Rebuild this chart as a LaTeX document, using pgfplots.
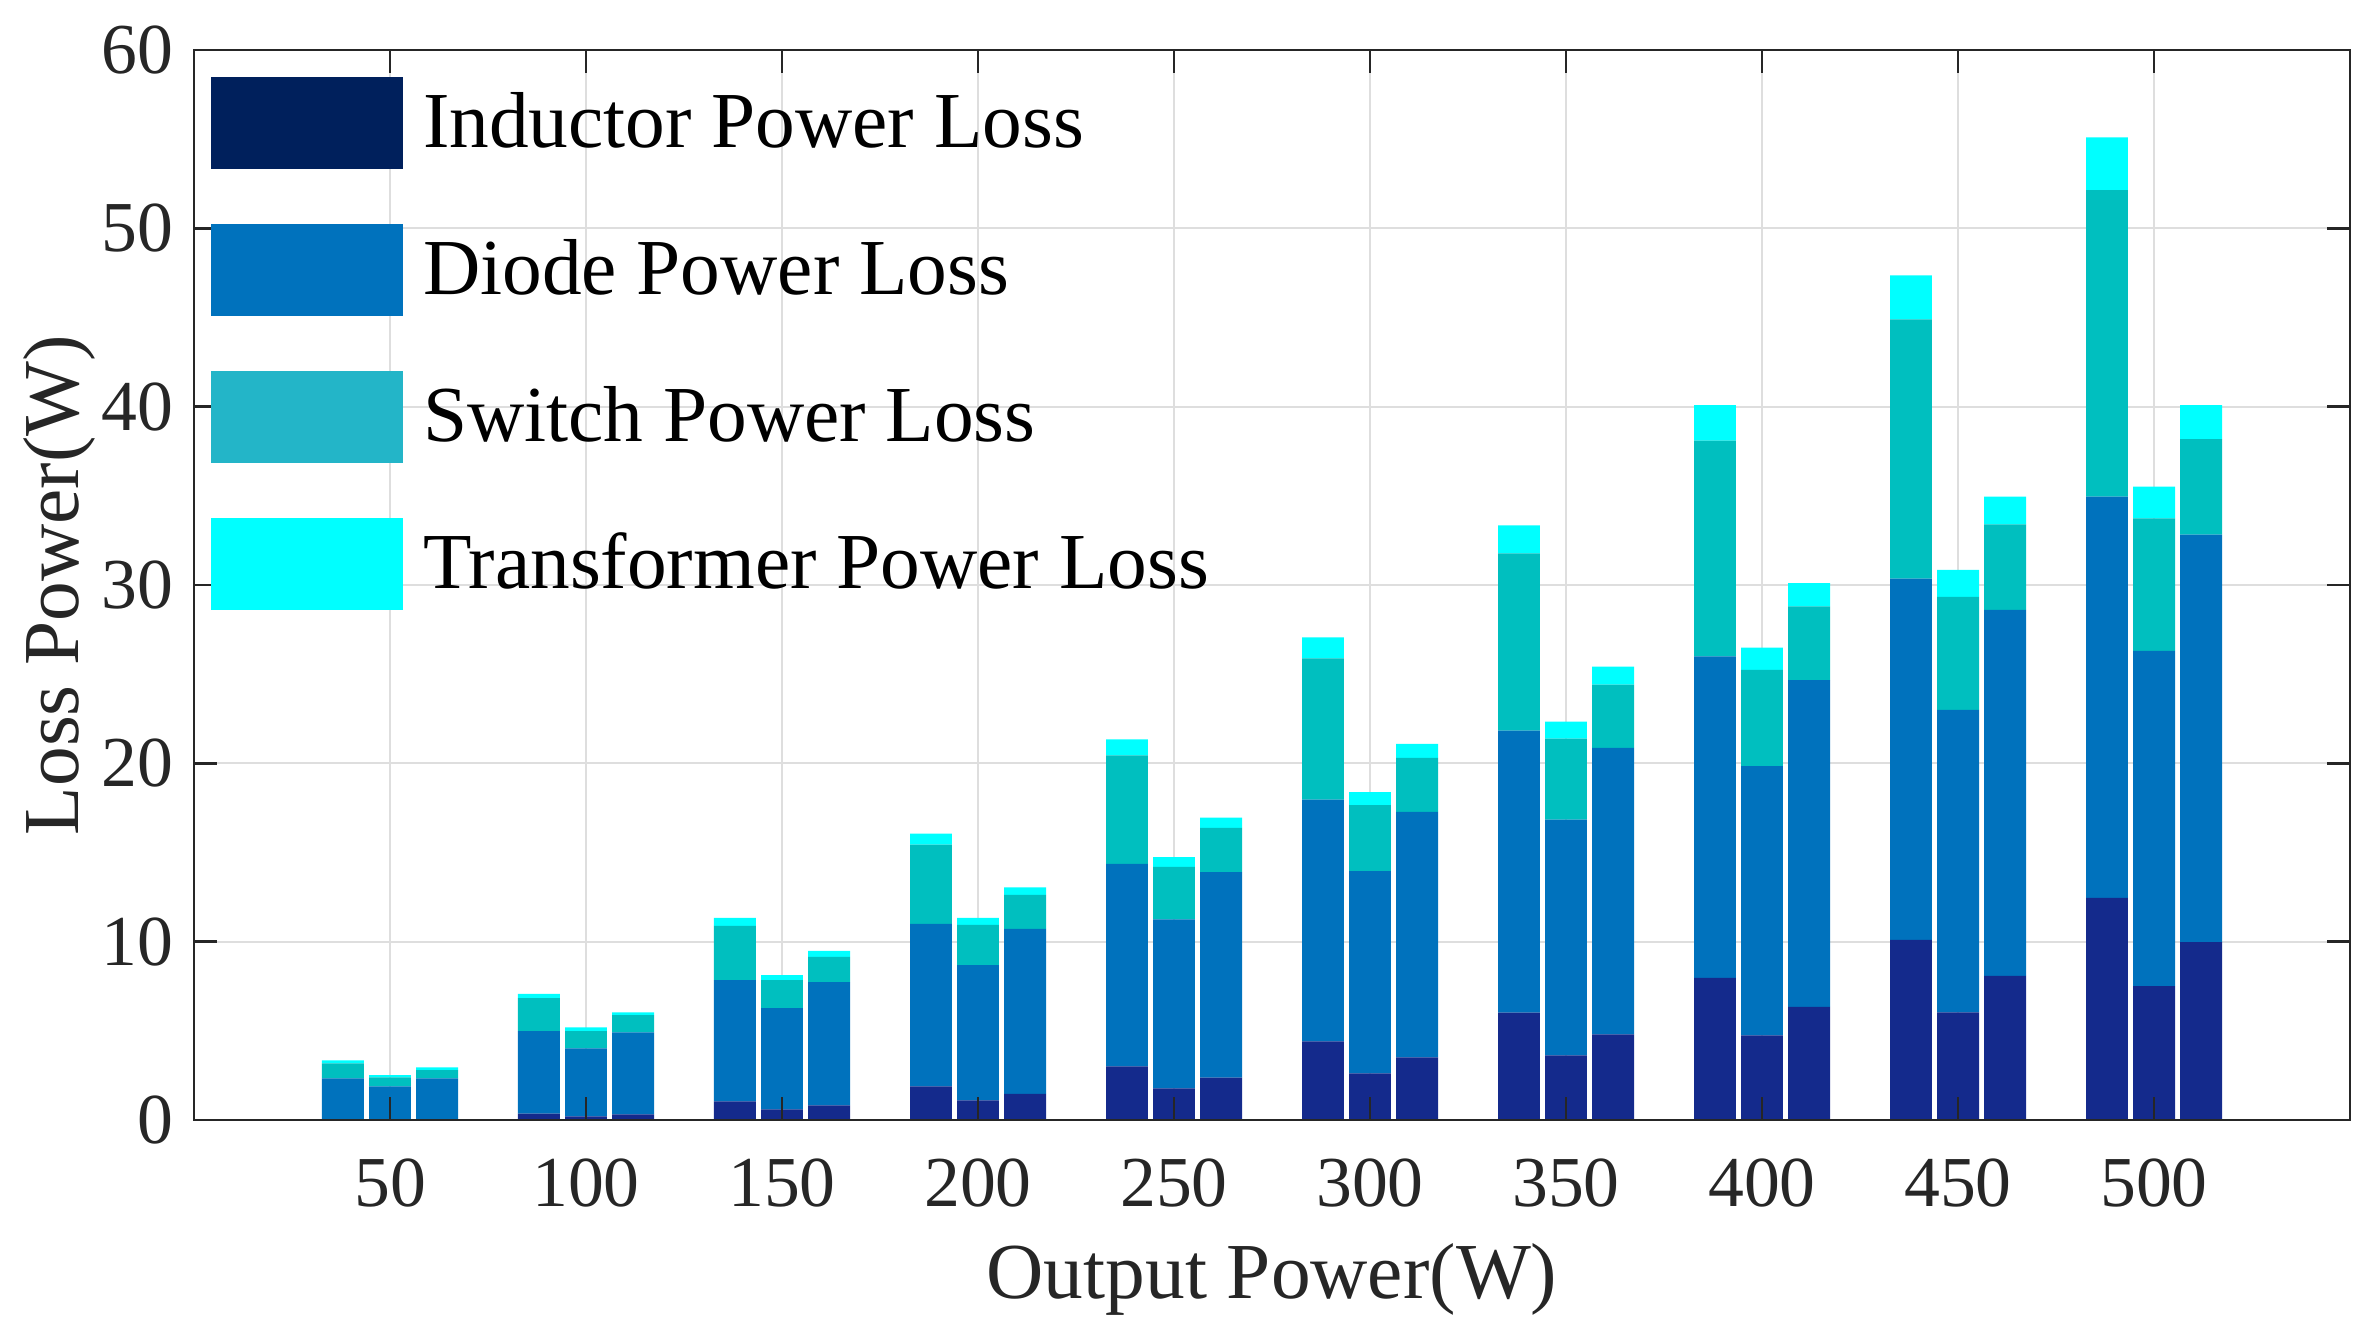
\documentclass[border=0pt]{standalone}
\usepackage{fontspec}
\setmainfont{Liberation Serif}
\usepackage{pgfplots}
\usepackage{pgfplotstable}
\pgfplotsset{compat=1.18}

\definecolor{indbar}{RGB}{20,42,140}
\definecolor{indleg}{RGB}{0,32,92}
\definecolor{diode}{RGB}{0,114,189}
\definecolor{swbar}{RGB}{0,191,191}
\definecolor{swleg}{RGB}{35,181,200}
\definecolor{trans}{RGB}{0,255,255}
\definecolor{axgray}{RGB}{38,38,38}
\definecolor{gridgray}{RGB}{222,222,222}

% components: inductor, diode, switch, transformer (stacked)
\pgfplotstableread{
x    ind    dio    sw     tr
38   0.05   2.28   0.84   0.18
50   0.04   1.85   0.50   0.12
62   0.05   2.28   0.46   0.16
88   0.36   4.62   1.85   0.24
100  0.20   3.82   0.96   0.22
112  0.32   4.60   0.96   0.16
138  1.04   6.81   3.03   0.45
150  0.60   5.67   1.58   0.28
162  0.82   6.91   1.41   0.34
188  1.89   9.11   4.44   0.62
200  1.10   7.59   2.25   0.39
212  1.47   9.24   1.91   0.43
238  3.00   11.36  6.08   0.90
250  1.77   9.48   2.95   0.54
262  2.37   11.53  2.48   0.57
288  4.41   13.55  7.93   1.17
300  2.62   11.33  3.71   0.73
312  3.51   13.77  3.02   0.79
338  6.02   15.81  9.94   1.58
350  3.62   13.22  4.55   0.95
362  4.80   16.07  3.54   1.01
388  7.97   18.03  12.10  1.98
400  4.74   15.11  5.39   1.25
412  6.34   18.33  4.13   1.30
438  10.10  20.26  14.54  2.46
450  6.03   16.97  6.34   1.51
462  8.08   20.52  4.80   1.55
488  12.45  22.50  17.19  2.96
500  7.51   18.79  7.44   1.78
512  9.98   22.85  5.35   1.90
}\losstable

\begin{document}
\begin{tikzpicture}
\begin{axis}[
  at={(58.2pt,64.5pt)}, anchor=south west,
  scale only axis, width=646.8pt, height=321pt,
  set layers, axis on top,
  xmin=0, xmax=550, ymin=0, ymax=60,
  xtick={50,100,...,500}, ytick={0,10,...,60},
  /pgf/number format/assume math mode=true,
  tick align=inside, major tick length=6.8pt,
  tick style={line width=0.75pt, color=axgray},
  axis line style={line width=0.75pt, color=axgray},
  grid=major,
  major grid style={line width=0.6pt, color=gridgray, /pgfplots/on layer=axis background},
  tick label style={font=\fontsize{21.5}{25}\selectfont, text=axgray, inner sep=0pt},
  xticklabel style={yshift=-11.4pt},
  yticklabel style={xshift=-6.1pt},
  xlabel={Output Power(W)},
  ylabel={Loss Power(W)},
  xlabel style={at={(axis description cs:0.5,-0.1664)}, anchor=base, font=\fontsize{23.8}{28}\selectfont, text=axgray},
  ylabel style={at={(axis description cs:-0.0538,0.5)}, anchor=base, font=\fontsize{23.8}{28}\selectfont, text=axgray},
  ybar stacked, bar width=10.7,
  legend style={at={(0,1)}, anchor=north west, xshift=5.1pt, yshift=-8.2pt,
    draw=none, fill=none, inner sep=0pt, outer sep=0pt, row sep=16.6pt,
    font=\fontsize{23.8}{28}\selectfont, nodes={inner sep=0pt},
    cells={anchor=base west}},
]
\addplot[forget plot, fill=indbar, draw=none] table[x=x, y=ind] {\losstable};
\addplot[forget plot, fill=diode, draw=none] table[x=x, y=dio] {\losstable};
\addplot[forget plot, fill=swbar, draw=none] table[x=x, y=sw] {\losstable};
\addplot[forget plot, fill=trans, draw=none] table[x=x, y=tr] {\losstable};

\addlegendimage{draw=none, legend image code/.code={\fill[indleg, draw=none] (0pt,-6.55pt) rectangle (57.6pt,20.95pt); \path[draw=none, fill=none] (0pt,0pt) rectangle (63.6pt,0.1pt);}}
\addlegendentry{Inductor Power Loss}
\addlegendimage{draw=none, legend image code/.code={\fill[diode, draw=none] (0pt,-6.55pt) rectangle (57.6pt,20.95pt); \path[draw=none, fill=none] (0pt,0pt) rectangle (63.6pt,0.1pt);}}
\addlegendentry{Diode Power Loss}
\addlegendimage{draw=none, legend image code/.code={\fill[swleg, draw=none] (0pt,-6.55pt) rectangle (57.6pt,20.95pt); \path[draw=none, fill=none] (0pt,0pt) rectangle (63.6pt,0.1pt);}}
\addlegendentry{Switch Power Loss}
\addlegendimage{draw=none, legend image code/.code={\fill[trans, draw=none] (0pt,-6.55pt) rectangle (57.6pt,20.95pt); \path[draw=none, fill=none] (0pt,0pt) rectangle (63.6pt,0.1pt);}}
\addlegendentry{Transformer Power Loss}
\end{axis}
\path (0pt,0pt) rectangle (713.4pt,400.5pt);
\end{tikzpicture}
\end{document}
